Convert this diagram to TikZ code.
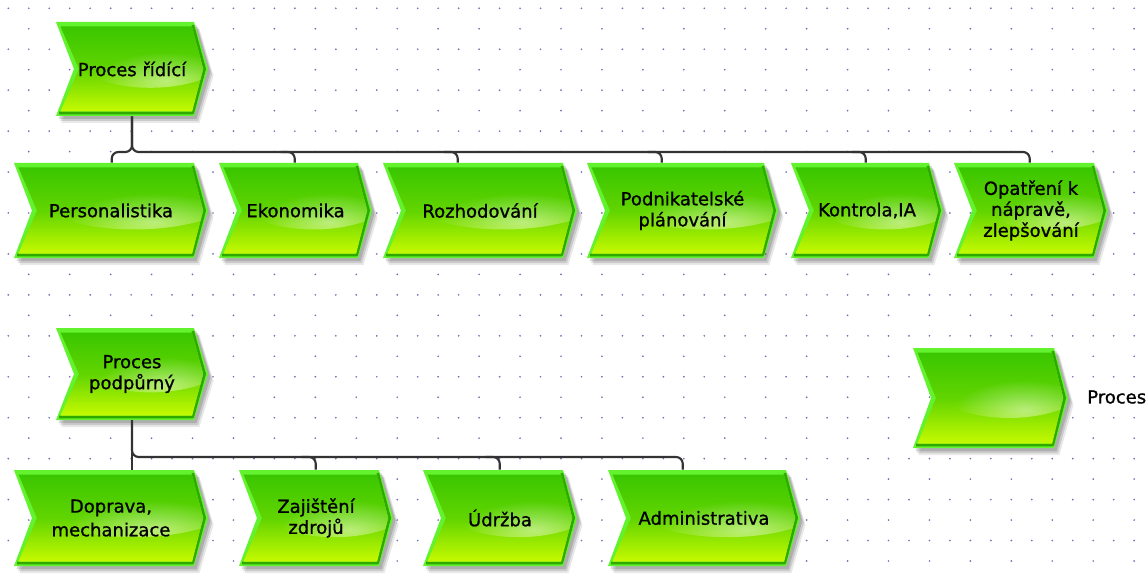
\documentclass[tikz,border=0pt]{standalone}
\usepackage{fontspec}
\setmainfont{DejaVu Sans}[RawFeature={embolden=0.9}]
\usetikzlibrary{calc,fadings}

\definecolor{rimlight}{HTML}{62F22E}
\definecolor{rimdark}{HTML}{2FA800}
\definecolor{filltop}{HTML}{3AC600}
\definecolor{fillbot}{HTML}{C6FA00}
\definecolor{linec}{HTML}{333333}
\definecolor{dotc}{HTML}{7070B4}

\tikzfading[name=glow, inner color=transparent!20, outer color=transparent!100]

\pgfdeclarelayer{grid}
\pgfdeclarelayer{shapes}
\pgfsetlayers{grid,shapes,main}

\tikzset{
  proctext/.style={font=\fontsize{13.5}{15.75}\selectfont, align=center,
    inner sep=0pt, text=black},
  conn/.style={draw=linec, line width=1.6pt, rounded corners=5pt},
}

% chevron outline: x0 y0 x1(tip) y1 inset
\newcommand\chevpath[5]{%
  ({#1+#5},{#2+#5}) -- ({#3-14-0.4*#5},{#2+#5}) -- ({#3-1.1*#5},{(#2+#4)/2})
  -- ({#3-14-0.4*#5},{#4-#5}) -- ({#1+#5},{#4-#5}) -- ({#1+18+1.1*#5},{(#2+#4)/2}) -- cycle}

% process box: name x0 y0 x1 y1 text
\newcommand\proc[6]{%
  \node[proctext, minimum width={(#4-#2)*0.75pt}, minimum height={(#5-#3)*0.75pt}]
    (#1) at ({(#2+#4)/2},{(#3+#5)/2}) {#6};
  \begin{pgfonlayer}{shapes}
    \foreach \dx/\dy/\op in {2.5/3/0.14,4/5/0.12,5.5/7/0.09}
      \fill[black, opacity=\op, shift={(\dx,\dy)}] \chevpath{#2}{#3}{#4}{#5}{0};
    \fill[rimlight] \chevpath{#2}{#3}{#4}{#5}{0};
    \draw[rimdark, line width=1.9pt, line join=round]
      ({#4-14-0.4*3},{#3+3}) -- ({#4-1.1*3},{(#3+#5)/2})
      -- ({#4-14-0.4*3},{#5-3}) -- ({#2+3},{#5-3});
    \shade[top color=filltop, bottom color=fillbot, middle color=filltop!72!fillbot]
      \chevpath{#2}{#3}{#4}{#5}{4.5};
    \begin{scope}
      \clip \chevpath{#2}{#3}{#4}{#5}{4.5};
      \clip ({#2+0.62*(#4-#2)},{#3+0.12*(#5-#3)})
        ellipse [x radius={0.64*(#4-#2)}, y radius={0.58*(#5-#3)}];
      \fill[white, fill opacity=0.6, path fading=glow]
        ({#2+0.72*(#4-#2)},{#3+0.62*(#5-#3)})
        ellipse [x radius={0.45*(#4-#2)}, y radius={0.3*(#5-#3)}];
    \end{scope}
  \end{pgfonlayer}}

\begin{document}
\begin{tikzpicture}[x=0.75pt, y=-0.75pt]
\useasboundingbox (0,0) rectangle (1146,574);

% dotted drawing grid
\begin{pgfonlayer}{grid}
  \fill[white] (0,0) rectangle (1146,574);
  \foreach \j in {0,2,...,28}
    \foreach \k in {0,...,56}
      \fill[dotc] ({8.3+20.47*\k},{8.3+20.47*\j}) circle (0.95);
  \foreach \j in {1,3,...,27}
    \foreach \k in {1,3,...,55}
      \fill[dotc] ({8.3+20.47*\k},{8.3+20.47*\j}) circle (0.95);
\end{pgfonlayer}

% management processes
\proc{R}{56}{22}{208}{116}{Proces řídící}
\proc{P1}{14}{163}{208}{258}{Personalistika}
\proc{P2}{219}{163}{372}{258}{Ekonomika}
\proc{P3}{383}{163}{577}{258}{Rozhodování}
\proc{P4}{587}{163}{778}{258}{Podnikatelské\\plánování}
\proc{P5}{791}{163}{943}{258}{Kontrola,IA}
\proc{P6}{954}{163}{1108}{258}{Opatření k\\nápravě,\\zlepšování}

% support processes
\proc{S}{56}{328}{208}{420}{Proces\\podpůrný}
\proc{Q1}{14}{470}{208}{566}{Doprava,\\[2pt]mechanizace}
\proc{Q2}{239}{470}{393}{566}{Zajištění\\zdrojů}
\proc{Q3}{423}{470}{577}{566}{Údržba}
\proc{Q4}{608}{470}{800}{566}{Administrativa}

% legend
\proc{L}{913}{348}{1068}{448}{}
\node[proctext, anchor=west] (Ltext) at (1087,397) {Proces};

% connector drop points on the child boxes
\coordinate (busA) at (132,152);
\coordinate (busB) at (132,457);
\coordinate (d1) at ($(P1.north west)+(98,0)$);
\coordinate (d2) at ($(P2.north west)+(76,0)$);
\coordinate (d3) at ($(P3.north west)+(75,0)$);
\coordinate (d4) at ($(P4.north west)+(75,0)$);
\coordinate (d5) at ($(P5.north west)+(75,0)$);
\coordinate (d6) at ($(P6.north west)+(76,0)$);
\coordinate (e2) at ($(Q2.north west)+(77,0)$);
\coordinate (e3) at ($(Q3.north west)+(77,0)$);
\coordinate (e4) at ($(Q4.north west)+(75,0)$);

% tree below "Proces řídící"
\draw[conn] (R.south) -- (R.south |- busA) -| (d1);
\draw[conn] (R.south) -- (R.south |- busA) -| (d6);
\foreach \d in {d2,d3,d4,d5}
  \draw[conn] (\d |- busA) ++(-14,0) -| (\d);

% tree below "Proces podpůrný"
\draw[conn] (S.south) -- (S.south |- Q1.north);
\draw[conn] (S.south) -- (S.south |- busB) -| (e4);
\foreach \d in {e2,e3}
  \draw[conn] (\d |- busB) ++(-14,0) -| (\d);
\end{tikzpicture}
\end{document}
